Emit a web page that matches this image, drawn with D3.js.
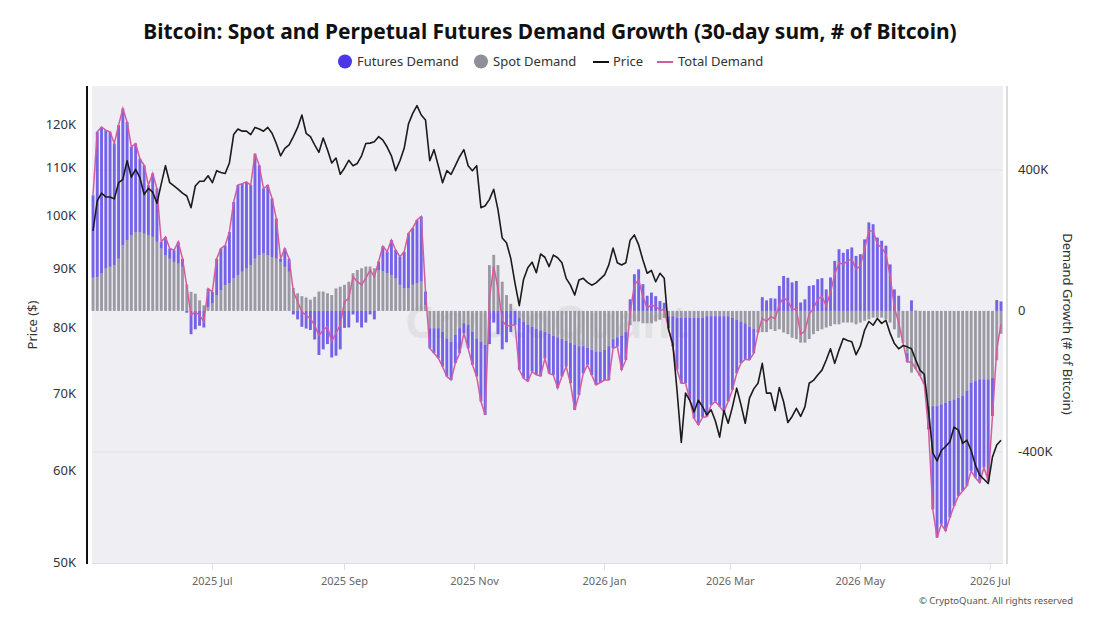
<!DOCTYPE html>
<html>
<head>
<meta charset="utf-8">
<script src="https://cdn.jsdelivr.net/npm/d3@7"></script>
<style>
  body { margin: 0; background: #fff; }
  svg { display: block; font-family: "Noto Sans", "Open Sans", sans-serif; }
</style>
</head>
<body>
<div id="chart"></div>
<script>
// daily series sampled every 2 days, starting 2025-05-06
const startDate = "2025-05-06";
const stepDays = 2;

// BTC price, thousands of USD
const price = [
  97.0,103.0,104.6,103.8,103.8,103.4,106.8,107.5,111.6,108.0,
  109.7,107.9,104.3,105.6,104.8,102.5,106.5,110.5,106.8,106.1,
  105.4,104.6,104.0,101.6,106.1,107.1,107.1,108.3,106.8,109.4,
  109.0,108.8,111.1,117.6,118.9,118.4,118.4,117.6,119.3,118.9,
  118.4,119.3,117.9,115.5,112.7,114.4,115.2,117.1,119.3,122.3,
  117.9,117.1,115.2,113.5,116.8,114.1,111.1,112.2,108.6,110.0,
  111.7,110.5,111.0,112.7,115.5,115.6,115.9,117.1,116.3,114.7,
  112.7,109.4,111.6,114.4,120.1,122.7,124.6,122.3,121.1,111.6,
  114.1,110.5,106.8,109.4,108.6,110.5,112.5,114.1,110.5,109.4,
  110.5,101.6,102.0,103.3,105.4,101.2,95.6,94.7,91.8,87.3,
  83.5,88.0,90.1,91.1,89.2,92.6,92.0,90.3,92.4,91.9,
  91.0,88.2,87.0,85.3,87.9,88.2,87.5,87.0,87.4,88.1,
  88.8,90.6,93.7,91.0,90.6,91.0,95.2,96.2,94.3,91.5,
  89.1,89.6,87.6,89.1,88.2,79.6,77.4,70.5,63.5,70.1,
  69.1,67.5,69.1,68.2,67.1,67.8,66.3,64.2,67.7,66.0,
  68.2,70.8,68.5,66.0,69.4,70.7,71.5,74.4,70.1,70.1,
  67.7,70.9,68.9,66.1,66.9,68.0,66.9,68.2,71.5,71.9,
  72.7,73.4,74.9,76.6,74.4,76.4,78.2,77.9,77.7,75.7,
  77.0,79.5,80.9,80.3,81.4,80.6,81.1,79.0,77.4,76.6,
  77.1,76.9,76.6,74.9,73.4,72.8,67.7,62.2,61.2,62.5,
  63.0,63.6,65.5,65.1,63.4,63.8,62.5,60.7,59.5,59.0,
  58.5,61.7,63.2,63.8
];

// spot demand growth, thousands of BTC
const spotDemand = [
  94,96,106,120,125,130,148,186,200,215,
  224,224,219,215,210,196,177,158,148,139,
  134,125,75,54,49,30,16,11,21,44,
  59,73,78,92,101,111,120,130,148,158,
  163,158,153,148,139,125,111,65,50,42,
  38,32,40,55,55,50,45,64,69,74,
  83,107,116,121,126,126,121,116,112,107,
  102,93,74,64,64,74,78,83,17,-49,
  -49,-49,-59,-78,-87,-68,-49,-35,-40,-59,
  -78,-87,-96,130,159,130,83,45,20,0,
  -20,-30,-40,-45,-50,-55,-60,-65,-70,-75,
  -80,-85,-90,-95,-100,-100,-105,-110,-115,-115,
  -110,-100,-80,-75,-70,-60,-40,-30,-30,-35,
  -35,-35,-30,-25,-20,-15,-15,-20,-20,-20,
  -20,-20,-20,-20,-15,-15,-15,-15,-15,-15,
  -20,-25,-30,-35,-45,-50,-55,-60,-60,-52,
  -57,-52,-61,-66,-76,-80,-90,-90,-80,-66,
  -57,-52,-47,-43,-38,-38,-33,-33,-33,-38,
  -33,-28,-24,-19,-19,-19,-24,-33,-52,-76,
  -90,-120,-175,-165,-180,-200,-270,-270,-270,-265,
  -260,-255,-251,-246,-241,-227,-203,-199,-194,-194,
  -194,-189,-140,-65
];

// perpetual futures demand growth, thousands of BTC
const futuresDemand = [
  234,412,416,393,383,345,379,388,336,250,
  251,208,194,142,180,151,19,52,29,33,
  62,23,-5,-66,-52,-42,-47,52,33,104,
  118,113,146,217,256,250,246,227,298,255,
  184,199,166,114,9,52,37,-10,-24,-45,
  -50,-54,-81,-125,-109,-94,-132,-127,-109,-48,
  -47,-10,-33,-47,-33,-10,-24,24,72,61,
  99,80,80,104,156,161,180,185,38,-57,
  -71,-85,-99,-108,-109,-80,-71,-28,-66,-94,
  -108,-170,-199,-94,-33,-66,-109,-89,-60,-40,
  -147,-161,-160,-127,-131,-130,-75,-112,-112,-144,
  -106,-73,-115,-186,-138,-77,-48,-72,-95,-88,
  -86,-96,-26,-26,-97,-79,33,104,118,76,
  43,52,42,28,23,-34,-86,-147,-185,-185,
  -232,-285,-303,-282,-285,-252,-242,-256,-271,-242,
  -204,-152,-118,-102,-94,-70,-6,39,30,36,
  35,71,99,94,81,85,24,33,71,73,
  90,93,61,95,142,175,165,175,180,156,
  161,203,251,246,208,199,185,132,61,43,
  0,-25,30,1,-4,-8,-66,-293,-373,-340,
  -364,-331,-302,-279,-270,-269,-251,-274,-293,-250,
  -288,-109,31,27
];

const priceTicks = [50, 60, 70, 80, 90, 100, 110, 120];
const priceTickLabels = ["50K", "60K", "70K", "80K", "90K", "100K", "110K", "120K"];
const demandTicks = [-400, 0, 400];
const demandTickLabels = ["-400K", "0", "400K"];
const monthTicks = ["2025-07-01", "2025-09-01", "2025-11-01", "2026-01-01", "2026-03-01", "2026-05-01", "2026-07-01"];
const monthTickLabels = ["2025 Jul", "2025 Sep", "2025 Nov", "2026 Jan", "2026 Mar", "2026 May", "2026 Jul"];

const W = 1100, H = 619;
const plot = { left: 92, right: 1003, top: 86, bottom: 563 };
const futuresColor = "#5540e6";
const spotColor = "#8f8e99";
const totalColor = "#d35c9e";

const parse = d3.timeParse("%Y-%m-%d");
const t0 = parse(startDate);
const rows = price.map((p, i) => ({
  date: d3.timeDay.offset(t0, i * stepDays),
  price: p,
  spot: spotDemand[i],
  futures: futuresDemand[i],
  total: spotDemand[i] + futuresDemand[i]
}));

const svg = d3.select("#chart")
  .append("svg")
    .attr("width", W)
    .attr("height", H);

const x = d3.scaleTime()
  .domain(d3.extent(rows, d => d.date))
  .range([93, 1001]);
const yPrice = d3.scaleLog()
  .domain([50, 129.6])
  .range([562, plot.top]);
const yDemand = d3.scaleLinear()
  .domain([-715, 638])
  .range([plot.bottom, plot.top]);

// plot background
svg.append("rect")
  .attr("x", plot.left).attr("y", plot.top)
  .attr("width", plot.right - plot.left).attr("height", plot.bottom - plot.top)
  .attr("fill", "#efeff3");

// gridlines follow the demand axis
svg.append("g").selectAll("line")
  .data(demandTicks.filter(d => d !== 0))
  .enter().append("line")
    .attr("x1", plot.left).attr("x2", plot.right)
    .attr("y1", d => yDemand(d)).attr("y2", d => yDemand(d))
    .attr("stroke", "#e2e2e7");

// watermark
svg.append("text")
  .attr("x", (plot.left + plot.right) / 2).attr("y", 338)
  .attr("text-anchor", "middle")
  .attr("font-size", 44).attr("font-weight", 700)
  .attr("fill", "#000").attr("opacity", 0.05)
  .text("CryptoQuant");

// stacked demand bars (spot next to zero, futures outside)
const stacked = d3.stack()
  .keys(["spot", "futures"])
  .offset(d3.stackOffsetDiverging)(rows);
const barW = 2.9;

svg.append("g").selectAll("g")
  .data(stacked)
  .enter().append("g")
    .attr("fill", d => d.key === "spot" ? spotColor : futuresColor)
    .attr("fill-opacity", d => d.key === "spot" ? 0.88 : 0.8)
  .selectAll("rect")
  .data(d => d)
  .enter().append("rect")
    .attr("x", d => x(d.data.date) - barW / 2)
    .attr("y", d => yDemand(Math.max(d[0], d[1])))
    .attr("width", barW)
    .attr("height", d => Math.abs(yDemand(d[0]) - yDemand(d[1])));

// total demand line
svg.append("path")
  .datum(rows)
  .attr("fill", "none")
  .attr("stroke", totalColor)
  .attr("stroke-width", 1.5)
  .attr("d", d3.line().x(d => x(d.date)).y(d => yDemand(d.total)));

// price line
svg.append("path")
  .datum(rows)
  .attr("fill", "none")
  .attr("stroke", "#1b1b1b")
  .attr("stroke-width", 1.6)
  .attr("stroke-linejoin", "round")
  .attr("d", d3.line().x(d => x(d.date)).y(d => yPrice(d.price)));

// axis lines
svg.append("line")
  .attr("x1", 87).attr("x2", 87).attr("y1", plot.top).attr("y2", plot.bottom + 1)
  .attr("stroke", "#111").attr("stroke-width", 2);
svg.append("line")
  .attr("x1", 1007).attr("x2", 1007).attr("y1", plot.top).attr("y2", plot.bottom + 1)
  .attr("stroke", "#dcdcdc").attr("stroke-width", 2);
svg.append("line")
  .attr("x1", plot.left).attr("x2", plot.right).attr("y1", plot.bottom + 0.5).attr("y2", plot.bottom + 0.5)
  .attr("stroke", "#dddde2");

// left price axis labels
svg.append("g").selectAll("text")
  .data(priceTicks)
  .enter().append("text")
    .attr("x", 76)
    .attr("y", d => yPrice(d))
    .attr("dy", "0.35em")
    .attr("text-anchor", "end")
    .attr("font-size", 13)
    .attr("fill", "#333")
    .text((d, i) => priceTickLabels[i]);

// right demand axis labels
svg.append("g").selectAll("text")
  .data(demandTicks)
  .enter().append("text")
    .attr("x", 1018)
    .attr("y", d => yDemand(d))
    .attr("dy", "0.35em")
    .attr("font-size", 13)
    .attr("fill", "#333")
    .text((d, i) => demandTickLabels[i]);

// x axis ticks and labels
const xt = svg.append("g").selectAll("g")
  .data(monthTicks.map(parse))
  .enter().append("g")
    .attr("transform", d => `translate(${x(d)},0)`);
xt.append("line")
  .attr("y1", plot.bottom + 1).attr("y2", plot.bottom + 7)
  .attr("stroke", "#dddde2");
xt.append("text")
  .attr("y", 585)
  .attr("text-anchor", "middle")
  .attr("font-size", 11)
  .attr("fill", "#666")
  .text((d, i) => monthTickLabels[i]);

// axis titles
svg.append("text")
  .attr("transform", "translate(37,325) rotate(-90)")
  .attr("text-anchor", "middle")
  .attr("font-size", 13)
  .attr("fill", "#333")
  .text("Price ($)");
svg.append("text")
  .attr("transform", "translate(1063,324) rotate(90)")
  .attr("text-anchor", "middle")
  .attr("font-size", 13)
  .attr("fill", "#333")
  .text("Demand Growth (# of Bitcoin)");

// title
const title = svg.append("text")
  .attr("x", 550).attr("y", 39)
  .attr("text-anchor", "middle")
  .attr("font-size", 20)
  .attr("font-weight", 700)
  .attr("fill", "#111")
  .text("Bitcoin: Spot and Perpetual Futures Demand Growth (30-day sum, # of Bitcoin)");
const tw = title.node().getComputedTextLength();
title.attr("font-size", 20 * 814 / tw);

// legend
const legend = svg.append("g").attr("font-size", 13).attr("fill", "#333");
legend.append("circle").attr("cx", 345).attr("cy", 61.5).attr("r", 7).attr("fill", "#4b36ea");
legend.append("text").attr("x", 357).attr("y", 66).text("Futures Demand");
legend.append("circle").attr("cx", 481).attr("cy", 61.5).attr("r", 7).attr("fill", spotColor);
legend.append("text").attr("x", 493).attr("y", 66).text("Spot Demand");
legend.append("line").attr("x1", 593).attr("x2", 609).attr("y1", 62).attr("y2", 62)
  .attr("stroke", "#111").attr("stroke-width", 2);
legend.append("text").attr("x", 613).attr("y", 66).text("Price");
legend.append("line").attr("x1", 657).attr("x2", 673).attr("y1", 62).attr("y2", 62)
  .attr("stroke", totalColor).attr("stroke-width", 2);
legend.append("text").attr("x", 678).attr("y", 66).text("Total Demand");

// credit
svg.append("text")
  .attr("x", 1073).attr("y", 604)
  .attr("text-anchor", "end")
  .attr("font-size", 9.5)
  .attr("fill", "#555")
  .text("\u00a9 CryptoQuant. All rights reserved");
</script>
</body>
</html>
